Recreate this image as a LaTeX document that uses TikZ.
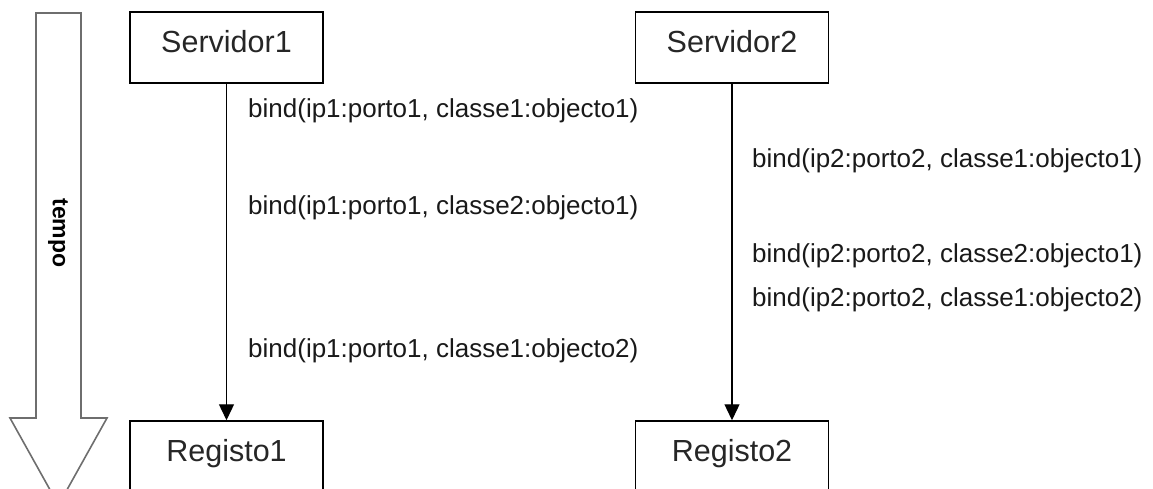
\documentclass[tikz,border=0pt]{standalone}
\usepackage{fontspec}
\setmainfont{Liberation Sans}
\usetikzlibrary{arrows.meta}
\definecolor{timegray}{HTML}{6E6E6E}
\begin{document}
\begin{tikzpicture}[x=1pt,y=-1pt,
  actor/.style={draw=black,line width=1.5pt,rectangle,inner sep=0pt,
    minimum width=193pt,text height=40pt,text depth=31pt,
    font=\fontsize{30.5pt}{36pt}\selectfont,text=black!85},
  call/.style={anchor=base west,inner sep=0pt,
    font=\fontsize{26pt}{30pt}\selectfont,text=black!90},
  flow/.style={line width=1.3pt,-{Triangle[length=16pt,width=15pt]}},
  timearrow/.style={draw=timegray,line width=1.6pt,fill=white,line join=miter}]
\useasboundingbox (0,0) rectangle (1153,488);
\clip (0,0) rectangle (1153,488);

% time axis
\draw[timearrow] (36,13) -- (81,13) -- (81,418) -- (107,418) -- (58.5,505)
  -- (10,418) -- (36,418) -- cycle;
\node[rotate=-90,font=\bfseries\fontsize{23pt}{27pt}\selectfont] (tempo) at (58,233) {tempo};

% servers and registries
\node[actor] (s1) at (226.5,47.5) {Servidor1};
\node[actor] (s2) at (732,47.5) {Servidor2};
\node[actor] (r1) at (226.5,456.5) {Registo1};
\node[actor] (r2) at (732,456.5) {Registo2};

\draw[flow] (s1.south) -- (r1.north);
\draw[flow] (s2.south) -- (r2.north);

% bind calls of server 1
\node[call] (b11) at (248,117) {bind(ip1:porto1, classe1:objecto1)};
\node[call] (b12) at (248,214) {bind(ip1:porto1, classe2:objecto1)};
\node[call] (b13) at (248,357) {bind(ip1:porto1, classe1:objecto2)};

% bind calls of server 2
\node[call] (b21) at (752,167) {bind(ip2:porto2, classe1:objecto1)};
\node[call] (b22) at (752,262) {bind(ip2:porto2, classe2:objecto1)};
\node[call] (b23) at (752,306) {bind(ip2:porto2, classe1:objecto2)};
\end{tikzpicture}
\end{document}
